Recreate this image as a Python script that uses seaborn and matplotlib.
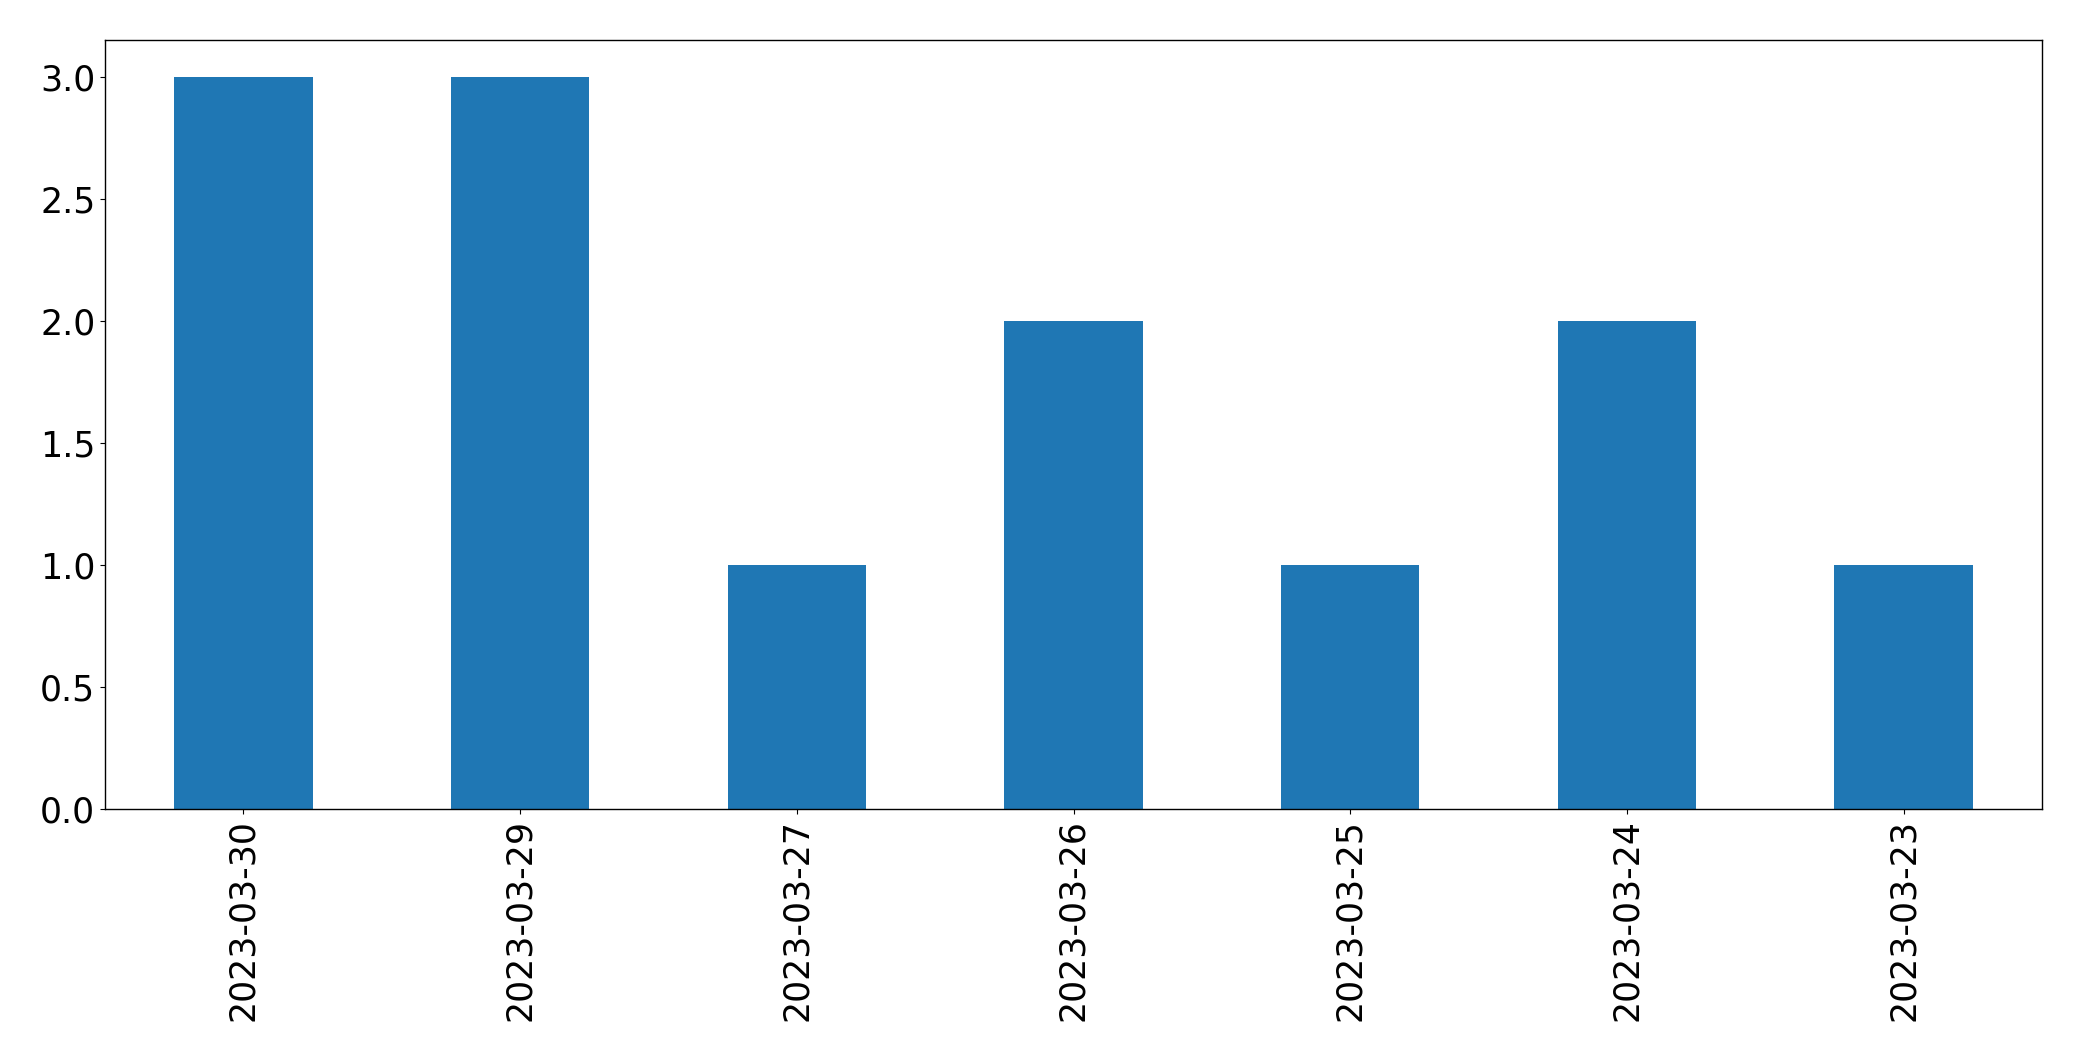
import matplotlib
matplotlib.use("Agg")
import matplotlib.pyplot as plt
import seaborn as sns
import pandas as pd

dates = ["2023-03-30", "2023-03-29", "2023-03-27", "2023-03-26", "2023-03-25", "2023-03-24", "2023-03-23"]
counts = [3, 3, 1, 2, 1, 2, 1]

df = pd.DataFrame({"date": dates, "count": counts})

fig = plt.figure(figsize=(20.82, 10.61), dpi=100)
ax = fig.add_axes([105/2082, 1 - 809/1061, (2042-105)/2082, (809-40)/1061])
sns.barplot(data=df, x="date", y="count", order=dates, color="#1f77b4",
            saturation=1, width=0.5, ax=ax)
ax.set_xlim(-0.5, len(dates) - 0.5)
ax.set_ylim(0, 3.15)
ax.set_xlabel("")
ax.set_ylabel("")
ax.tick_params(axis="both", labelsize=25)
ax.tick_params(axis="x", labelrotation=90)
for s in ax.spines.values():
    s.set_visible(True)
    s.set_color("black")
    s.set_linewidth(1.0)
fig.savefig("out.png", dpi=100)
